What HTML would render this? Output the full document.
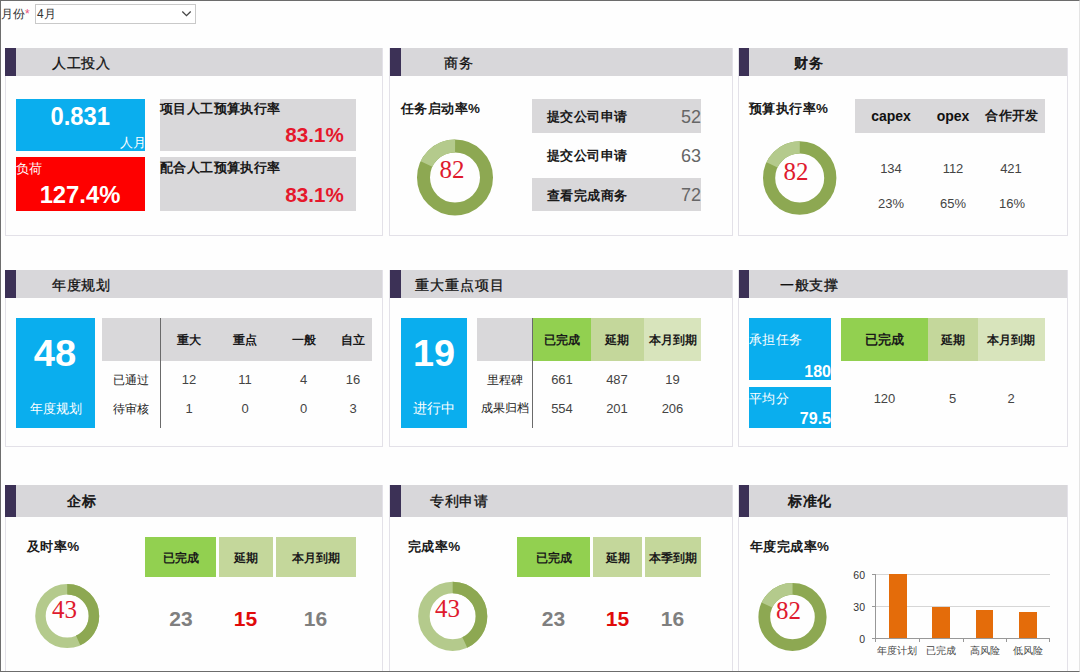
<!DOCTYPE html>
<html><head><meta charset="utf-8">
<style>
*{box-sizing:border-box;margin:0;padding:0}
html,body{width:1080px;height:672px;overflow:hidden;background:#fefefe}
body{position:relative;font-family:"Liberation Sans",sans-serif;color:#222}
.a{position:absolute;white-space:nowrap}
.frame{z-index:10;left:0;top:0;width:1080px;height:672px;border-top:1px solid #6c6c6c;border-left:1px solid #6e6e6e;border-bottom:1px solid #6c6c6c;border-right:1px solid #e4e4e4}
.panel{border:1px solid #e3e1e8;background:#fefefe}
.hd{background:#d8d7da}
.pp{background:#3c3156}
.ttl{font-size:14.4px;letter-spacing:.55px;line-height:28px;color:#111;-webkit-text-stroke:.3px #111}
.g{background:#d9d8da}
.blue{background:#0aaeee}
.red{background:#fe0000}
.w{color:#fff}
.b{font-weight:bold}
.c{text-align:center}
.r{text-align:right}
.lbl{letter-spacing:.4px;font-size:13.4px;font-weight:bold;color:#1a1a1a;line-height:16px}
.num{font-size:13px;color:#444;line-height:14px;text-align:center;width:60px;margin-left:-30px}
.th{font-size:12.2px;font-weight:bold;color:#1a1a1a;line-height:14px;text-align:center;width:80px;margin-left:-40px}
.rl{font-size:12.4px;color:#222;line-height:14px;text-align:center;width:70px;margin-left:-35px}
.dn{font-family:"Liberation Serif",serif;font-size:25px;color:#df1a2e;line-height:26px;text-align:center;width:60px;margin-left:-30px}
.big{font-size:21px;font-weight:bold;line-height:22px;text-align:center;width:60px;margin-left:-30px;color:#7f7f7f}
.g1{background:#92d050}.g2{background:#c4d79b}.g3{background:#d8e4bc}
</style></head><body>
<div class="a frame"></div>

<!-- top filter -->
<div class="a" style="left:1px;top:5.5px;font-size:12px;line-height:16px;color:#333">月份<span style="color:#e9507a">*</span></div>
<div class="a" style="left:35px;top:4px;width:161px;height:20px;border:1px solid #c9c9c9;background:#fff"></div>
<div class="a" style="left:37px;top:6px;font-size:12px;line-height:16px;color:#333">4月</div>
<svg class="a" style="left:180px;top:9px" width="14" height="10" viewBox="0 0 14 10"><path d="M2.3 2.5 L6.5 6.7 L10.7 2.5" fill="none" stroke="#444" stroke-width="1.3"/></svg>

<!-- ================= ROW 1 ================= -->
<!-- panel 1 -->
<div class="a panel" style="left:5px;top:48px;width:378px;height:188px"></div>
<div class="a hd" style="left:5px;top:48px;width:377px;height:28px"></div>
<div class="a pp" style="left:5px;top:48px;width:11px;height:28px"></div>
<div class="a ttl" style="left:52px;top:49px">人工投入</div>

<div class="a blue" style="left:16px;top:99px;width:129px;height:52px"></div>
<div class="a w b c" style="left:16px;top:102px;width:129px;font-size:25px;line-height:28px"><span style="display:inline-block;transform:scaleX(.95)">0.831</span></div>
<div class="a w r" style="left:16px;top:135px;width:130px;font-size:13px;line-height:16px">人月</div>
<div class="a red" style="left:16px;top:157px;width:129px;height:54px"></div>
<div class="a w" style="left:16px;top:161px;font-size:13px;line-height:16px">负荷</div>
<div class="a w b c" style="left:16px;top:182px;width:129px;font-size:23px;line-height:26px"><span style="display:inline-block;transform:scaleX(1.035)">127.4%</span></div>

<div class="a g" style="left:160px;top:99px;width:196px;height:52px"></div>
<div class="a g" style="left:160px;top:157px;width:196px;height:54px"></div>
<div class="a lbl" style="left:160px;top:101px">项目人工预算执行率</div>
<div class="a lbl" style="left:160px;top:160px">配合人工预算执行率</div>
<div class="a b r" style="left:160px;top:123px;width:184px;font-size:20px;line-height:24px;color:#e5182c"><span style="display:inline-block;transform:scaleX(1.03);transform-origin:right">83.1%</span></div>
<div class="a b r" style="left:160px;top:183px;width:184px;font-size:20px;line-height:24px;color:#e5182c"><span style="display:inline-block;transform:scaleX(1.03);transform-origin:right">83.1%</span></div>

<!-- panel 2 -->
<div class="a panel" style="left:389px;top:48px;width:344px;height:188px"></div>
<div class="a hd" style="left:390px;top:48px;width:342px;height:28px"></div>
<div class="a pp" style="left:390px;top:48px;width:11px;height:28px"></div>
<div class="a ttl" style="left:444px;top:49px">商务</div>
<div class="a lbl" style="left:401px;top:101px">任务启动率%</div>
<svg class="a" style="left:415px;top:137px" width="80" height="80" viewBox="0 0 80 80">
<circle cx="40" cy="40.5" r="31.5" fill="none" stroke="#8da852" stroke-width="13"/>
<circle cx="40" cy="40.5" r="31.5" fill="none" stroke="#b4ca8c" stroke-width="13" stroke-dasharray="35.63 162.29" transform="rotate(-154.8 40 40.5)"/>
</svg>
<div class="a dn" style="left:452px;top:157px">82</div>
<div class="a g" style="left:532px;top:99px;width:169px;height:34px"></div>
<div class="a g" style="left:532px;top:178px;width:169px;height:33px"></div>
<div class="a lbl" style="left:547px;top:109px">提交公司申请</div>
<div class="a lbl" style="left:547px;top:148px">提交公司申请</div>
<div class="a lbl" style="left:547px;top:188px">查看完成商务</div>
<div class="a r" style="left:641px;top:106px;width:60px;font-size:18px;line-height:22px;color:#666">52</div>
<div class="a r" style="left:641px;top:145px;width:60px;font-size:18px;line-height:22px;color:#666">63</div>
<div class="a r" style="left:641px;top:184px;width:60px;font-size:18px;line-height:22px;color:#666">72</div>

<!-- panel 3 -->
<div class="a panel" style="left:738px;top:48px;width:330px;height:188px"></div>
<div class="a hd" style="left:739px;top:48px;width:328px;height:28px"></div>
<div class="a pp" style="left:739px;top:48px;width:10px;height:28px"></div>
<div class="a ttl" style="left:794px;top:49px;-webkit-text-stroke:.6px #111">财务</div>
<div class="a lbl" style="left:749px;top:101px">预算执行率%</div>
<svg class="a" style="left:760px;top:138px" width="80" height="80" viewBox="0 0 80 80">
<circle cx="39.7" cy="40" r="30.6" fill="none" stroke="#8da852" stroke-width="12.2"/>
<circle cx="39.7" cy="40" r="30.6" fill="none" stroke="#b4ca8c" stroke-width="12.2" stroke-dasharray="34.61 157.66" transform="rotate(-154.8 39.7 40)"/>
</svg>
<div class="a dn" style="left:796px;top:159px">82</div>
<div class="a g" style="left:855px;top:99px;width:190px;height:34px"></div>
<div class="a b c" style="left:861px;top:108px;width:60px;font-size:14px;line-height:16px;color:#111">capex</div>
<div class="a b c" style="left:923px;top:108px;width:60px;font-size:14px;line-height:16px;color:#111">opex</div>
<div class="a lbl c" style="left:982px;top:108px;width:60px">合作开发</div>
<div class="a num" style="left:891px;top:162px">134</div>
<div class="a num" style="left:953px;top:162px">112</div>
<div class="a num" style="left:1011px;top:162px">421</div>
<div class="a num" style="left:891px;top:197px">23%</div>
<div class="a num" style="left:953px;top:197px">65%</div>
<div class="a num" style="left:1012px;top:197px">16%</div>

<!-- ================= ROW 2 ================= -->
<!-- panel 4 -->
<div class="a panel" style="left:5px;top:270px;width:378px;height:177px"></div>
<div class="a hd" style="left:5px;top:270px;width:377px;height:28px"></div>
<div class="a pp" style="left:5px;top:270px;width:11px;height:28px"></div>
<div class="a ttl" style="left:52px;top:271px">年度规划</div>
<div class="a blue" style="left:16px;top:318px;width:79px;height:110px"></div>
<div class="a w b c" style="left:16px;top:333.5px;width:79px;font-size:36px;line-height:40px"><span style="display:inline-block;transform:scaleX(1.06)">48</span></div>
<div class="a w c" style="left:16px;top:401px;width:79px;font-size:13.3px;line-height:16px">年度规划</div>
<div class="a g" style="left:102px;top:318px;width:270px;height:43px"></div>
<div class="a" style="left:160px;top:318px;width:1px;height:110px;background:#6a6a6a"></div>
<div class="a th" style="left:188.5px;top:333px">重大</div>
<div class="a th" style="left:245px;top:333px">重点</div>
<div class="a th" style="left:303.5px;top:333px">一般</div>
<div class="a th" style="left:353px;top:333px">自立</div>
<div class="a rl" style="left:131px;top:373px">已通过</div>
<div class="a rl" style="left:131px;top:402px">待审核</div>
<div class="a num" style="left:189px;top:373px">12</div>
<div class="a num" style="left:245px;top:373px">11</div>
<div class="a num" style="left:303.5px;top:373px">4</div>
<div class="a num" style="left:353px;top:373px">16</div>
<div class="a num" style="left:189px;top:402px">1</div>
<div class="a num" style="left:245px;top:402px">0</div>
<div class="a num" style="left:303.5px;top:402px">0</div>
<div class="a num" style="left:353px;top:402px">3</div>

<!-- panel 5 -->
<div class="a panel" style="left:389px;top:270px;width:344px;height:177px"></div>
<div class="a hd" style="left:390px;top:270px;width:342px;height:28px"></div>
<div class="a pp" style="left:390px;top:270px;width:11px;height:28px"></div>
<div class="a ttl" style="left:415px;top:271px;letter-spacing:1px">重大重点项目</div>
<div class="a blue" style="left:401px;top:318px;width:66px;height:110px"></div>
<div class="a w b c" style="left:401px;top:333.5px;width:66px;font-size:36px;line-height:40px"><span style="display:inline-block;transform:scaleX(1.05)">19</span></div>
<div class="a w c" style="left:401px;top:401px;width:66px;font-size:13.5px;line-height:16px">进行中</div>
<div class="a g" style="left:477px;top:318px;width:56px;height:43px"></div>
<div class="a g1" style="left:533px;top:318px;width:58px;height:43px"></div>
<div class="a g2" style="left:591px;top:318px;width:53px;height:43px"></div>
<div class="a g3" style="left:644px;top:318px;width:57px;height:43px"></div>
<div class="a" style="left:532px;top:318px;width:1px;height:110px;background:#6a6a6a"></div>
<div class="a th" style="left:562px;top:333px">已完成</div>
<div class="a th" style="left:617px;top:333px">延期</div>
<div class="a th" style="left:672.5px;top:333px">本月到期</div>
<div class="a rl" style="left:504.5px;top:373px">里程碑</div>
<div class="a rl" style="left:504.5px;top:401px">成果归档</div>
<div class="a num" style="left:562px;top:373px">661</div>
<div class="a num" style="left:617px;top:373px">487</div>
<div class="a num" style="left:672.5px;top:373px">19</div>
<div class="a num" style="left:562px;top:402px">554</div>
<div class="a num" style="left:617px;top:402px">201</div>
<div class="a num" style="left:672.5px;top:402px">206</div>

<!-- panel 6 -->
<div class="a panel" style="left:738px;top:270px;width:330px;height:177px"></div>
<div class="a hd" style="left:739px;top:270px;width:328px;height:28px"></div>
<div class="a pp" style="left:739px;top:270px;width:10px;height:28px"></div>
<div class="a ttl" style="left:780px;top:271px">一般支撑</div>
<div class="a blue" style="left:749px;top:318px;width:82px;height:62px"></div>
<div class="a blue" style="left:749px;top:387px;width:82px;height:41px"></div>
<div class="a w" style="left:749px;top:332px;font-size:13.4px;letter-spacing:.4px;line-height:16px">承担任务</div>
<div class="a w b r" style="left:749px;top:362px;width:82px;font-size:16px;line-height:20px">180</div>
<div class="a w" style="left:749px;top:390.5px;font-size:13.4px;letter-spacing:.3px;line-height:16px">平均分</div>
<div class="a w b r" style="left:749px;top:409px;width:82px;font-size:16px;line-height:20px">79.5</div>
<div class="a g1" style="left:841px;top:318px;width:87px;height:43px"></div>
<div class="a g2" style="left:928px;top:318px;width:50px;height:43px"></div>
<div class="a g3" style="left:978px;top:318px;width:67px;height:43px"></div>
<div class="a th" style="left:884.5px;top:332px;font-size:13.4px;line-height:16px">已完成</div>
<div class="a th" style="left:952.5px;top:333px">延期</div>
<div class="a th" style="left:1011px;top:333px">本月到期</div>
<div class="a num" style="left:884.5px;top:392px">120</div>
<div class="a num" style="left:952.5px;top:392px">5</div>
<div class="a num" style="left:1011px;top:392px">2</div>

<!-- ================= ROW 3 ================= -->
<!-- panel 7 -->
<div class="a panel" style="left:5px;top:485px;width:378px;height:200px"></div>
<div class="a hd" style="left:5px;top:485px;width:377px;height:32px"></div>
<div class="a pp" style="left:5px;top:485px;width:11px;height:32px"></div>
<div class="a ttl" style="left:67px;top:487px;-webkit-text-stroke:.6px #111">企标</div>
<div class="a lbl" style="left:27px;top:539px">及时率%</div>
<svg class="a" style="left:27px;top:576px" width="80" height="80" viewBox="0 0 80 80">
<circle cx="40.2" cy="40" r="26.75" fill="none" stroke="#b4ca8c" stroke-width="10.5"/>
<circle cx="40.2" cy="40" r="26.75" fill="none" stroke="#8da852" stroke-width="10.5" stroke-dasharray="72.27 95.8" transform="rotate(-90 40.2 40)"/>
</svg>
<div class="a dn" style="left:64.5px;top:597px">43</div>
<div class="a g1" style="left:145px;top:537px;width:71px;height:40px"></div>
<div class="a g2" style="left:219px;top:537px;width:54px;height:40px"></div>
<div class="a g2" style="left:276px;top:537px;width:80px;height:40px"></div>
<div class="a th" style="left:180.5px;top:551px">已完成</div>
<div class="a th" style="left:245.5px;top:551px">延期</div>
<div class="a th" style="left:315.5px;top:551px">本月到期</div>
<div class="a big" style="left:181px;top:608px">23</div>
<div class="a big" style="left:245.5px;top:608px;color:#e00a0a">15</div>
<div class="a big" style="left:315.5px;top:608px">16</div>

<!-- panel 8 -->
<div class="a panel" style="left:389px;top:485px;width:344px;height:200px"></div>
<div class="a hd" style="left:390px;top:485px;width:342px;height:32px"></div>
<div class="a pp" style="left:390px;top:485px;width:11px;height:32px"></div>
<div class="a ttl" style="left:430px;top:487px">专利申请</div>
<div class="a lbl" style="left:408px;top:539px">完成率%</div>
<svg class="a" style="left:412px;top:576px" width="80" height="80" viewBox="0 0 80 80">
<circle cx="40.7" cy="40.3" r="28.8" fill="none" stroke="#b4ca8c" stroke-width="11.6"/>
<circle cx="40.7" cy="40.3" r="28.8" fill="none" stroke="#8da852" stroke-width="11.6" stroke-dasharray="77.81 103.15" transform="rotate(-90 40.7 40.3)"/>
</svg>
<div class="a dn" style="left:447.5px;top:596px">43</div>
<div class="a g1" style="left:517px;top:537px;width:73px;height:40px"></div>
<div class="a g2" style="left:593px;top:537px;width:49px;height:40px"></div>
<div class="a g2" style="left:645px;top:537px;width:56px;height:40px"></div>
<div class="a th" style="left:553.5px;top:551px">已完成</div>
<div class="a th" style="left:617.5px;top:551px">延期</div>
<div class="a th" style="left:673px;top:551px">本季到期</div>
<div class="a big" style="left:553.5px;top:608px">23</div>
<div class="a big" style="left:617.5px;top:608px;color:#e00a0a">15</div>
<div class="a big" style="left:672.5px;top:608px">16</div>

<!-- panel 9 -->
<div class="a panel" style="left:738px;top:485px;width:330px;height:200px"></div>
<div class="a hd" style="left:739px;top:485px;width:328px;height:32px"></div>
<div class="a pp" style="left:739px;top:485px;width:10px;height:32px"></div>
<div class="a ttl" style="left:788px;top:487px;-webkit-text-stroke:.6px #111">标准化</div>
<div class="a lbl" style="left:750px;top:539px">年度完成率%</div>
<svg class="a" style="left:752px;top:577px" width="80" height="80" viewBox="0 0 80 80">
<circle cx="40.5" cy="40" r="28.2" fill="none" stroke="#8da852" stroke-width="11.8"/>
<circle cx="40.5" cy="40" r="28.2" fill="none" stroke="#b4ca8c" stroke-width="11.8" stroke-dasharray="31.89 145.3" transform="rotate(-154.8 40.5 40)"/>
</svg>
<div class="a dn" style="left:788.5px;top:598px">82</div>
<!-- bar chart -->
<div class="a" style="left:876px;top:574px;width:174px;height:1px;background:#d6d6d6"></div>
<div class="a" style="left:876px;top:606px;width:174px;height:1px;background:#d6d6d6"></div>
<div class="a" style="left:889px;top:574px;width:18px;height:65px;background:#e46c0a"></div>
<div class="a" style="left:932px;top:607px;width:18px;height:32px;background:#e46c0a"></div>
<div class="a" style="left:976px;top:610px;width:17px;height:29px;background:#e46c0a"></div>
<div class="a" style="left:1019px;top:612px;width:18px;height:27px;background:#e46c0a"></div>
<div class="a" style="left:875px;top:574px;width:1px;height:68px;background:#989898"></div>
<div class="a" style="left:872px;top:638px;width:178px;height:1px;background:#989898"></div>
<div class="a" style="left:872px;top:574px;width:4px;height:1px;background:#989898"></div>
<div class="a" style="left:872px;top:606px;width:4px;height:1px;background:#989898"></div>
<div class="a" style="left:919px;top:638px;width:1px;height:4px;background:#989898"></div>
<div class="a" style="left:963px;top:638px;width:1px;height:4px;background:#989898"></div>
<div class="a" style="left:1006px;top:638px;width:1px;height:4px;background:#989898"></div>
<div class="a" style="left:1049px;top:638px;width:1px;height:4px;background:#989898"></div>
<div class="a r" style="left:835px;top:569px;width:30px;font-size:10.5px;line-height:12px;color:#333">60</div>
<div class="a r" style="left:835px;top:601px;width:30px;font-size:10.5px;line-height:12px;color:#333">30</div>
<div class="a r" style="left:835px;top:633px;width:30px;font-size:10.5px;line-height:12px;color:#333">0</div>
<div class="a c" style="left:867px;top:645px;width:60px;font-size:9.7px;line-height:12px;color:#444">年度计划</div>
<div class="a c" style="left:910.5px;top:645px;width:60px;font-size:9.7px;line-height:12px;color:#444">已完成</div>
<div class="a c" style="left:954.5px;top:645px;width:60px;font-size:9.7px;line-height:12px;color:#444">高风险</div>
<div class="a c" style="left:997.5px;top:645px;width:60px;font-size:9.7px;line-height:12px;color:#444">低风险</div>
</body></html>
